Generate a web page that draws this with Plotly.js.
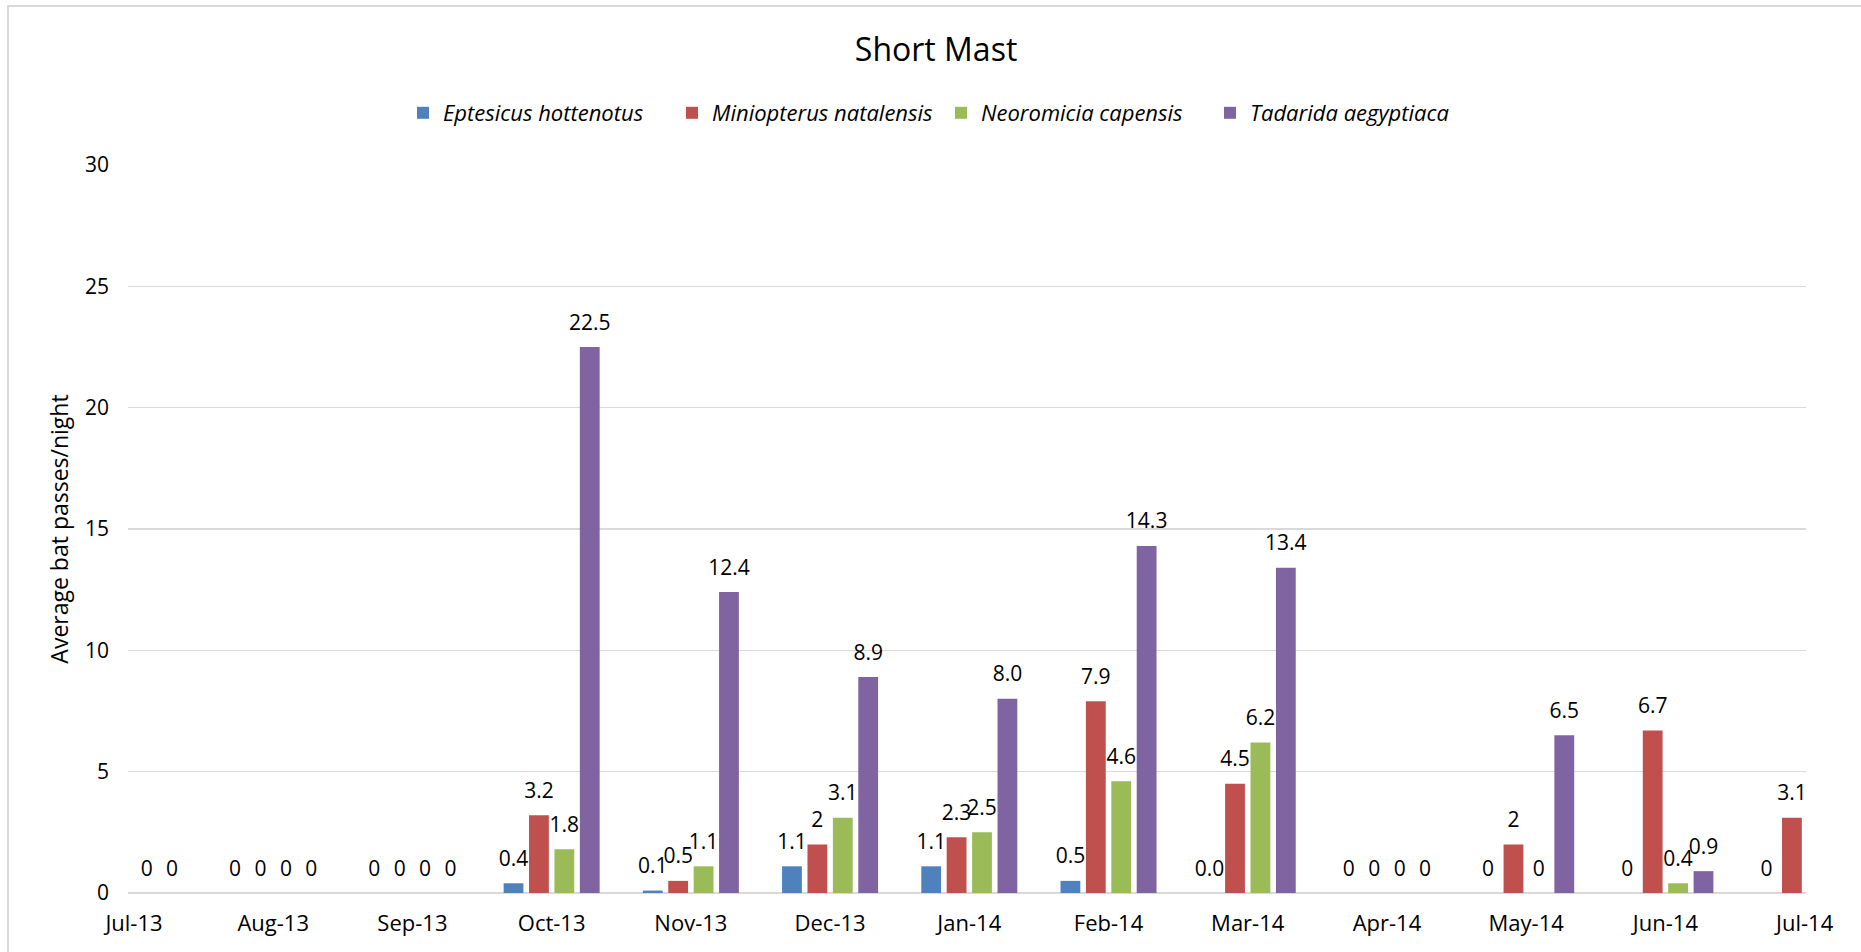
<!DOCTYPE html>
<html>
<head>
<meta charset="utf-8">
<script src="https://cdn.plot.ly/plotly-3.0.1.min.js"></script>
<style>
  html, body { margin: 0; padding: 0; background: #ffffff; overflow: hidden; width: 1861px; height: 952px; }
  #topline { position: absolute; left: 7px; top: 5px; width: 1854px; height: 2px; background: #d9d9d9; }
  #leftline { position: absolute; left: 7px; top: 5px; width: 2px; height: 947px; background: #d9d9d9; }
  #chart { position: absolute; left: 0; top: 0; width: 1861px; height: 952px; }
</style>
</head>
<body>
<div id="topline"></div>
<div id="leftline"></div>
<div id="chart"></div>
<script>
// ---- data ----
const months = ['Jul-13','Aug-13','Sep-13','Oct-13','Nov-13','Dec-13','Jan-14','Feb-14','Mar-14','Apr-14','May-14','Jun-14','Jul-14'];
const seriesNames = ['Eptesicus hottenotus','Miniopterus natalensis','Neoromicia capensis','Tadarida aegyptiaca'];
const eptesicus   = [null, 0, 0, 0.4, 0.1, 1.1, 1.1, 0.5, 0.0, 0, 0, 0, 0];
const miniopterus = [null, 0, 0, 3.2, 0.5, 2, 2.3, 7.9, 4.5, 0, 2, 6.7, 3.1];
const neoromicia  = [0, 0, 0, 1.8, 1.1, 3.1, 2.5, 4.6, 6.2, 0, 0, 0.4, null];
const tadarida    = [0, 0, 0, 22.5, 12.4, 8.9, 8.0, 14.3, 13.4, 0, 6.5, 0.9, null];
const eptesicusLabels   = ['', '0', '0', '0.4', '0.1', '1.1', '1.1', '0.5', '0.0', '0', '0', '0', '0'];
const miniopterusLabels = ['', '0', '0', '3.2', '0.5', '2', '2.3', '7.9', '4.5', '0', '2', '6.7', '3.1'];
const neoromiciaLabels  = ['0', '0', '0', '1.8', '1.1', '3.1', '2.5', '4.6', '6.2', '0', '0', '0.4', ''];
const tadaridaLabels    = ['0', '0', '0', '22.5', '12.4', '8.9', '8.0', '14.3', '13.4', '0', '6.5', '0.9', ''];
const yTicks = [0, 5, 10, 15, 20, 25, 30];

// ---- styles ----
const colors = ['#4F81BD', '#C0504D', '#9BBB59', '#8064A2'];
const FONT = '"Open Sans", "Noto Sans", sans-serif';
const values = [eptesicus, miniopterus, neoromicia, tadarida];
const labels = [eptesicusLabels, miniopterusLabels, neoromiciaLabels, tadaridaLabels];

const traces = [];
values.forEach((v, i) => {
  traces.push({
    type: 'bar', x: months, y: v, name: seriesNames[i],
    marker: { color: colors[i] },
    offsetgroup: String(i), hoverinfo: 'skip'
  });
});
values.forEach((v, i) => {
  traces.push({
    type: 'scatter', mode: 'markers+text', x: months, y: v,
    text: labels[i], textposition: 'top center',
    textfont: { family: FONT, size: 21, color: '#000000' },
    marker: { size: 18, opacity: 0, color: colors[i] },
    offsetgroup: String(i), showlegend: false, hoverinfo: 'skip', cliponaxis: true
  });
});

const layout = {
  width: 1861, height: 952,
  paper_bgcolor: 'rgba(0,0,0,0)', plot_bgcolor: 'rgba(0,0,0,0)',
  margin: { l: 128, r: 55, t: 165, b: 59 },
  font: { family: FONT, size: 21, color: '#000000' },
  title: { text: 'Short Mast', font: { family: FONT, size: 32, color: '#000000' },
           x: 0.503, xanchor: 'center', y: 1 - 50/952, yanchor: 'middle', yref: 'container' },
  barmode: 'group', bargap: 0.27, bargroupgap: 0.22,
  scattermode: 'group',
  showlegend: true,
  legend: { orientation: 'h', x: 0.4845, xanchor: 'center', y: 1 - 113/952, yanchor: 'middle', yref: 'container',
            font: { family: FONT, size: 22, color: '#000000', style: 'italic' },
            itemwidth: 30, traceorder: 'normal', entrywidth: 224, entrywidthmode: 'pixels' },
  xaxis: { type: 'category', range: [-0.043, 12.01], showgrid: false, zeroline: false, showline: false,
           ticks: '', ticklabelstandoff: 15, tickfont: { family: FONT, size: 22, color: '#000000' },
           tickvals: months, ticktext: months, fixedrange: true },
  yaxis: { range: [0, 30], tickvals: yTicks, showgrid: true, gridcolor: '#d9d9d9', gridwidth: 1.5,
           zeroline: true, zerolinecolor: '#d9d9d9', zerolinewidth: 2, showline: false, ticks: '',
           ticklabelstandoff: 18, tickfont: { family: FONT, size: 21, color: '#000000' },
           title: { text: 'Average bat passes/night', font: { family: FONT, size: 23, color: '#000000' }, standoff: 9 },
           fixedrange: true }
};

Plotly.newPlot('chart', traces, layout, { displayModeBar: false, staticPlot: true });
</script>
</body>
</html>
